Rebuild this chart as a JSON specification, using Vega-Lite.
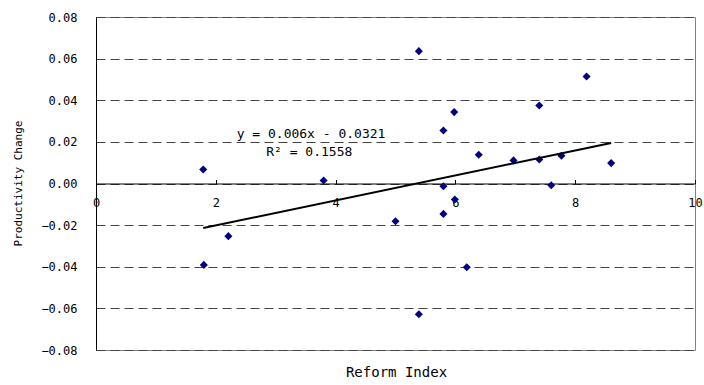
{
  "$schema": "https://vega.github.io/schema/vega-lite/v6.json",
  "width": 599,
  "height": 333,
  "autosize": {"type": "none"},
  "padding": {"left": 96, "top": 17, "right": 9, "bottom": 35},
  "background": "white",
  "config": {
    "view": {"stroke": "#808080", "strokeWidth": 1},
    "font": "DejaVu Sans Mono"
  },
  "datasets": {
    "points": [
      {"ri": 1.79, "pc": 0.0067},
      {"ri": 1.80, "pc": -0.0391},
      {"ri": 2.21, "pc": -0.0253},
      {"ri": 3.80, "pc": 0.0014},
      {"ri": 5.00, "pc": -0.0181},
      {"ri": 5.39, "pc": 0.0636},
      {"ri": 5.39, "pc": -0.0628},
      {"ri": 5.80, "pc": 0.0255},
      {"ri": 5.80, "pc": -0.0013},
      {"ri": 5.80, "pc": -0.0146},
      {"ri": 5.98, "pc": 0.0343},
      {"ri": 5.99, "pc": -0.0077},
      {"ri": 6.19, "pc": -0.0402},
      {"ri": 6.39, "pc": 0.0138},
      {"ri": 6.97, "pc": 0.0111},
      {"ri": 7.40, "pc": 0.0375},
      {"ri": 7.40, "pc": 0.0115},
      {"ri": 7.60, "pc": -0.0008},
      {"ri": 7.77, "pc": 0.0133},
      {"ri": 8.19, "pc": 0.0514},
      {"ri": 8.60, "pc": 0.0098}
    ],
    "trend": [
      {"ri": 1.79, "pc": -0.0214},
      {"ri": 8.60, "pc": 0.0195}
    ],
    "labels": [
      {"ri": 3.59, "pc": 0.0236, "text": "y = 0.006x - 0.0321"},
      {"ri": 3.56, "pc": 0.0149, "text": "R² = 0.1558"}
    ]
  },
  "layer": [
    {
      "data": {"name": "points"},
      "mark": {"type": "point", "shape": "diamond", "filled": true, "color": "#000080", "size": 65, "opacity": 1},
      "encoding": {
        "x": {
          "field": "ri", "type": "quantitative",
          "scale": {"domain": [0, 10], "nice": false, "zero": false},
          "axis": {
            "title": "Reform Index",
            "values": [0, 2, 4, 6, 8, 10],
            "format": "d",
            "offset": -166.5,
            "grid": false,
            "domainColor": "black",
            "tickColor": "black",
            "tickSize": -4,
            "labelPadding": 18,
            "labelFlush": false,
            "labelFont": "DejaVu Sans Mono",
            "labelFontSize": 12,
            "labelColor": "black",
            "titleFont": "DejaVu Sans Mono",
            "titleFontSize": 14,
            "titleFontWeight": "normal",
            "titleColor": "black",
            "titleY": 189,
            "titleX": 300,
            "titleBaseline": "middle"
          }
        },
        "y": {
          "field": "pc", "type": "quantitative",
          "scale": {"domain": [-0.08, 0.08], "nice": false, "zero": false},
          "axis": {
            "title": "Productivity Change",
            "values": [-0.08, -0.06, -0.04, -0.02, 0, 0.02, 0.04, 0.06, 0.08],
            "format": ".2f",
            "grid": true,
            "gridColor": "#444444",
            "gridDash": [9, 5],
            "gridWidth": 1,
            "domainColor": "black",
            "ticks": false,
            "labelPadding": 19,
            "labelFlush": false,
            "labelFont": "DejaVu Sans Mono",
            "labelFontSize": 12,
            "labelColor": "black",
            "titleFont": "DejaVu Sans Mono",
            "titleFontSize": 11,
            "titleFontWeight": "normal",
            "titleColor": "black",
            "titleX": -78,
            "titleY": 166,
            "titleAngle": 270,
            "titleAlign": "center",
            "titleBaseline": "middle"
          }
        }
      }
    },
    {
      "data": {"name": "trend"},
      "mark": {"type": "line", "color": "black", "strokeWidth": 2},
      "encoding": {
        "x": {"field": "ri", "type": "quantitative"},
        "y": {"field": "pc", "type": "quantitative"}
      }
    },
    {
      "data": {"name": "labels"},
      "mark": {"type": "text", "font": "DejaVu Sans Mono", "fontSize": 13, "color": "black", "align": "center", "baseline": "middle"},
      "encoding": {
        "x": {"field": "ri", "type": "quantitative"},
        "y": {"field": "pc", "type": "quantitative"},
        "text": {"field": "text"}
      }
    }
  ]
}
